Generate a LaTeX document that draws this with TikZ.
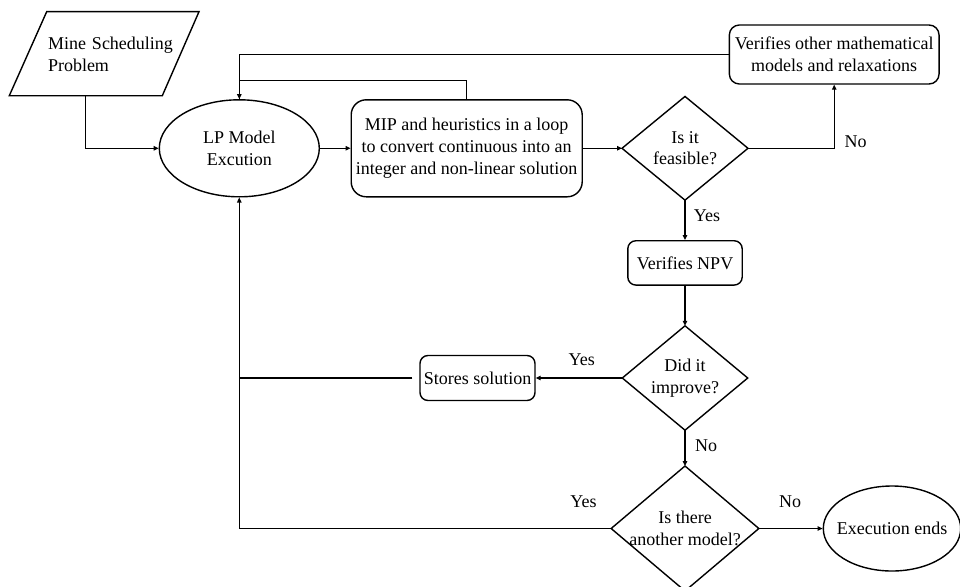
\documentclass[tikz,border=0pt]{standalone}
\usepackage{fontspec}
\setmainfont{Liberation Serif}
\usetikzlibrary{arrows.meta,shapes.geometric,calc}
\begin{document}
\begin{tikzpicture}[x=1pt,y=-1pt,
  every node/.style={font=\fontsize{18}{21.7}\selectfont, inner sep=0pt},
  conn/.style={line width=1.1pt, line join=miter},
  arr/.style={conn,-{Triangle[length=5pt,width=4.5pt]}},
  shapeline/.style={draw, line width=1.4pt},
  rbox/.style={shapeline, rectangle, align=center},
  oval/.style={shapeline, ellipse, align=center},
  dia/.style={rectangle, align=center},
  lbl/.style={anchor=base}]
\useasboundingbox (0,0) rectangle (960,586);
\clip (0,0) rectangle (960,586);

% input parallelogram
\node[align=left, text width=130pt] (msp) at (113,54) {Mine Scheduling\\Problem};
\draw[shapeline] ($(msp.center)+(-66.3,-42.3)$) -- ($(msp.center)+(86,-42.3)$)
  -- ($(msp.center)+(49.3,41.7)$) -- ($(msp.center)+(-103.7,41.7)$) -- cycle;
\coordinate (mspb) at ($(msp.center)+(-27.2,41.7)$);

\node[oval, minimum width=160pt, minimum height=97pt] (lp) at (239.3,148.3) {LP Model\\Excution};
\node[rbox, rounded corners=15pt, minimum width=231pt, minimum height=97pt] (mip) at (466.7,148.3)
  {MIP and heuristics in a loop\\to convert continuous into an\\integer and non-linear solution};
\node[dia, minimum width=125.6pt, minimum height=103.3pt] (feas) at (685,148.3) {Is it\\feasible?};
\draw[shapeline] (feas.north) -- (feas.east) -- (feas.south) -- (feas.west) -- cycle;
\node[rbox, rounded corners=10pt, minimum width=209.7pt, minimum height=59pt] (ver) at (834.2,54.5)
  {Verifies other mathematical\\models and relaxations};
\node[rbox, rounded corners=8pt, minimum width=114.4pt, minimum height=44.3pt] (npv) at (685,262.9) {Verifies NPV};
\node[dia, minimum width=125pt, minimum height=104pt] (impr) at (685,378) {Did it\\improve?};
\draw[shapeline] (impr.north) -- (impr.east) -- (impr.south) -- (impr.west) -- cycle;
\node[rbox, rounded corners=8pt, minimum width=115pt, minimum height=45pt] (sto) at (477.5,378) {Stores solution};
\node[dia, minimum width=147.3pt, minimum height=124.6pt] (another) at (685,528.5) {Is there\\another model?};
\draw[shapeline] (another.north) -- (another.east) -- (another.south) -- (another.west) -- cycle;
\node[oval, minimum width=137.4pt, minimum height=85pt] (end) at (892,528.5) {\makebox[0pt]{Execution ends}};

% connectors
\draw[arr] (mspb) |- (lp.west);
\draw[arr] (lp.east) -- (mip.west);
\draw[arr] (mip.east) -- (feas.west);
\draw[arr] (feas.east) -| (ver.south);
\draw[arr] (ver.west) -| (lp.north);
\draw[conn] (mip.north) -- ++(0,-18.3) -| (lp.north);
\draw[arr] (feas.south) -- (npv.north);
\draw[arr] (npv.south) -- (impr.north);
\draw[arr] (impr.west) -- (sto.east);
\draw[arr] (impr.south) -- (another.north);
\draw[arr] (another.east) -- (end.west);
\draw[arr] (another.west) -| (lp.south);
\draw[conn, shorten <=7pt] (sto.west) -- (sto.west -| lp.south);

% labels
\node[lbl] (yes1) at (707,221) {Yes};
\node[lbl] (no1) at (855.5,147.3) {No};
\node[lbl] (yes2) at (581.8,365.7) {Yes};
\node[lbl] (no2) at (706,451.7) {No};
\node[lbl] (yes3) at (583.5,507.3) {Yes};
\node[lbl] (no3) at (790,507.3) {No};
\end{tikzpicture}
\end{document}
